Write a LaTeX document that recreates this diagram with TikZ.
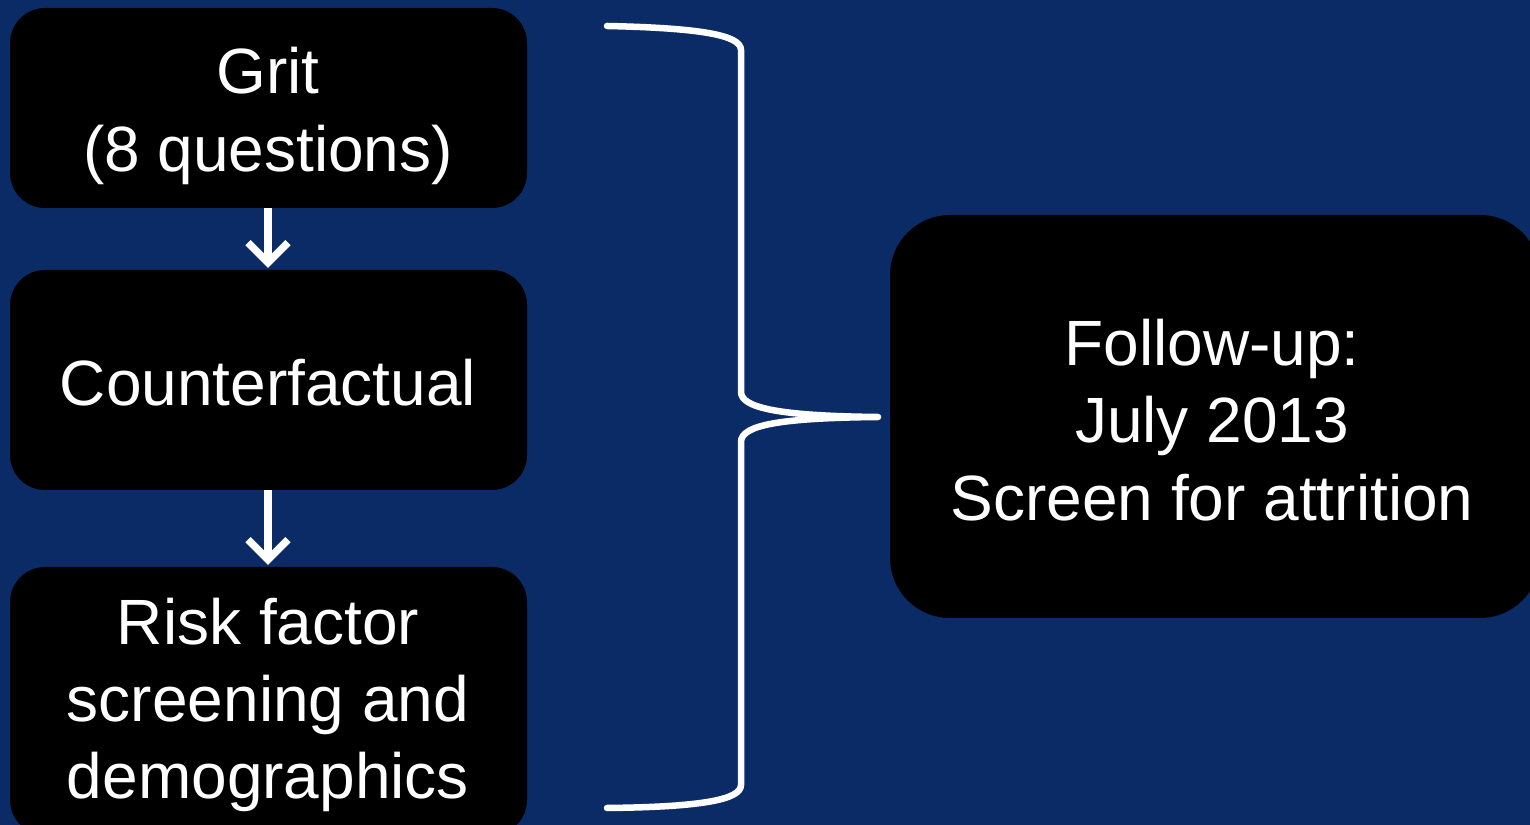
\documentclass[tikz,border=0pt]{standalone}
\usepackage{fontspec}
\setmainfont{Liberation Sans}
\usetikzlibrary{arrows.meta}
\definecolor{bgblue}{RGB}{11,43,102}
\begin{document}
\begin{tikzpicture}[x=0.01cm,y=-0.01cm,
  box/.style={fill=black,rounded corners=0.35cm},
  lbl/.style={text=white,align=center,font=\fontsize{18.2}{22}\selectfont},
  flow/.style={draw=white,line width=0.075cm,-{Straight Barb[length=0.2cm,width=0.4cm,line width=0.075cm]}},
  brace/.style={draw=white,line width=0.065cm,line cap=round,line join=round}]
\useasboundingbox (0,0) rectangle (1530,825);
\fill[bgblue] (0,0) rectangle (1530,825);
\begin{scope}
\clip (0,0) rectangle (1530,825);
\fill[box] (10,8) rectangle (527,208);
\fill[box] (10,270) rectangle (527,490);
\fill[box] (10,567) rectangle (527,835);
\fill[black,rounded corners=0.6cm] (890,215) rectangle (1540,618);
\end{scope}
\node[lbl] (grit) at (268,116) {Grit\\(8 questions)};
\node[lbl] (cf) at (268,383) {Counterfactual};
\node[lbl] (risk) at (268,705) {Risk factor\\screening and\\demographics};
\node[lbl] (fu) at (1212,420) {Follow-up:\\July 2013\\Screen for attrition};
\coordinate (a1s) at (268,208);
\coordinate (a1e) at (268,268);
\coordinate (a2s) at (268,490);
\coordinate (a2e) at (268,565);
\draw[flow] (a1s) -- (a1e);
\draw[flow] (a2s) -- (a2e);
\coordinate (bt) at (607,26);
\coordinate (bb) at (607,808);
\coordinate (tip) at (878,417);
\draw[brace] (bt) .. controls (700,28) and (741,35) .. (741,50)
  -- (741,392) .. controls (741,408) and (780,416) .. (tip)
  .. controls (780,418) and (741,425) .. (741,442)
  -- (741,785) .. controls (741,800) and (700,807) .. (bb);
\end{tikzpicture}
\end{document}
